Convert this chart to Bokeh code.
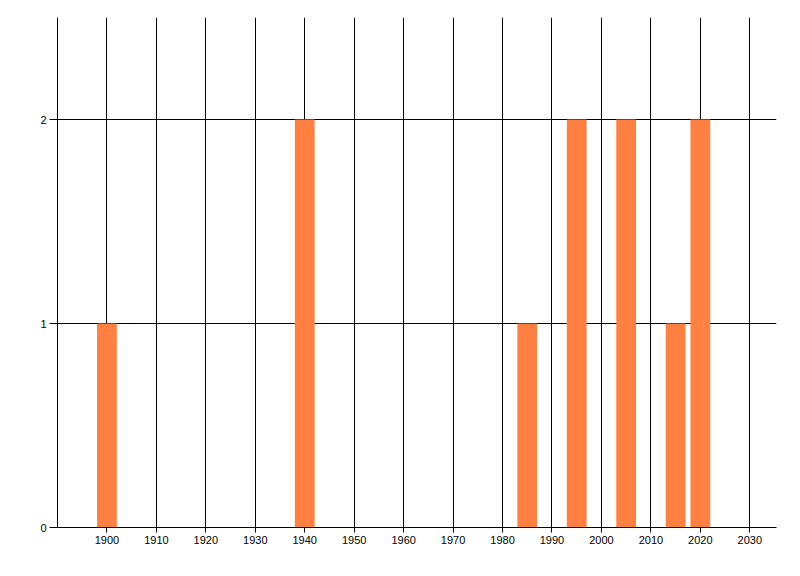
from bokeh.plotting import figure
from bokeh.models import FixedTicker, Range1d
from bokeh.embed import file_html
from bokeh.resources import INLINE

years = [1900, 1940, 1985, 1995, 2005, 2015, 2020]
counts = [1, 2, 1, 2, 2, 1, 2]
x_tick_labels = [1900, 1910, 1920, 1930, 1940, 1950, 1960, 1970, 1980, 1990, 2000, 2010, 2020, 2030]
x_grid_years = [1890] + x_tick_labels
y_ticks = [0, 1, 2]

p = figure(width=792, height=568, output_backend="svg", toolbar_location=None,
           x_range=Range1d(1890, 2035.4), y_range=Range1d(0, 2.5),
           min_border_left=57, min_border_right=16, min_border_top=17, min_border_bottom=41)
p.outline_line_color = None
p.background_fill_color = "white"
p.border_fill_color = "white"

p.vbar(x=years, top=counts, width=4, bottom=0, fill_color="#FF8040", line_color=None)

font = "Liberation Sans"
xa = p.xaxis[0]
xa.ticker = FixedTicker(ticks=x_tick_labels)
xa.axis_line_color = "black"
xa.major_tick_line_color = "black"
xa.major_tick_out = 5
xa.major_tick_in = 0
xa.minor_tick_line_color = None
xa.major_label_standoff = 3
xa.major_label_text_font = font
xa.major_label_text_font_size = "11px"
xa.major_label_text_color = "black"

ya = p.yaxis[0]
ya.ticker = FixedTicker(ticks=y_ticks)
ya.axis_line_color = "black"
ya.major_tick_line_color = "black"
ya.major_tick_out = 8
ya.major_tick_in = 0
ya.minor_tick_line_color = None
ya.major_label_standoff = 3
ya.major_label_text_font = font
ya.major_label_text_font_size = "11px"
ya.major_label_text_color = "black"

p.xgrid.ticker = FixedTicker(ticks=x_grid_years)
p.xgrid.grid_line_color = "black"
p.xgrid.grid_line_width = 1
p.ygrid.ticker = FixedTicker(ticks=y_ticks)
p.ygrid.grid_line_color = "black"
p.ygrid.grid_line_width = 1

open("out.html", "w").write(file_html(p, INLINE))
